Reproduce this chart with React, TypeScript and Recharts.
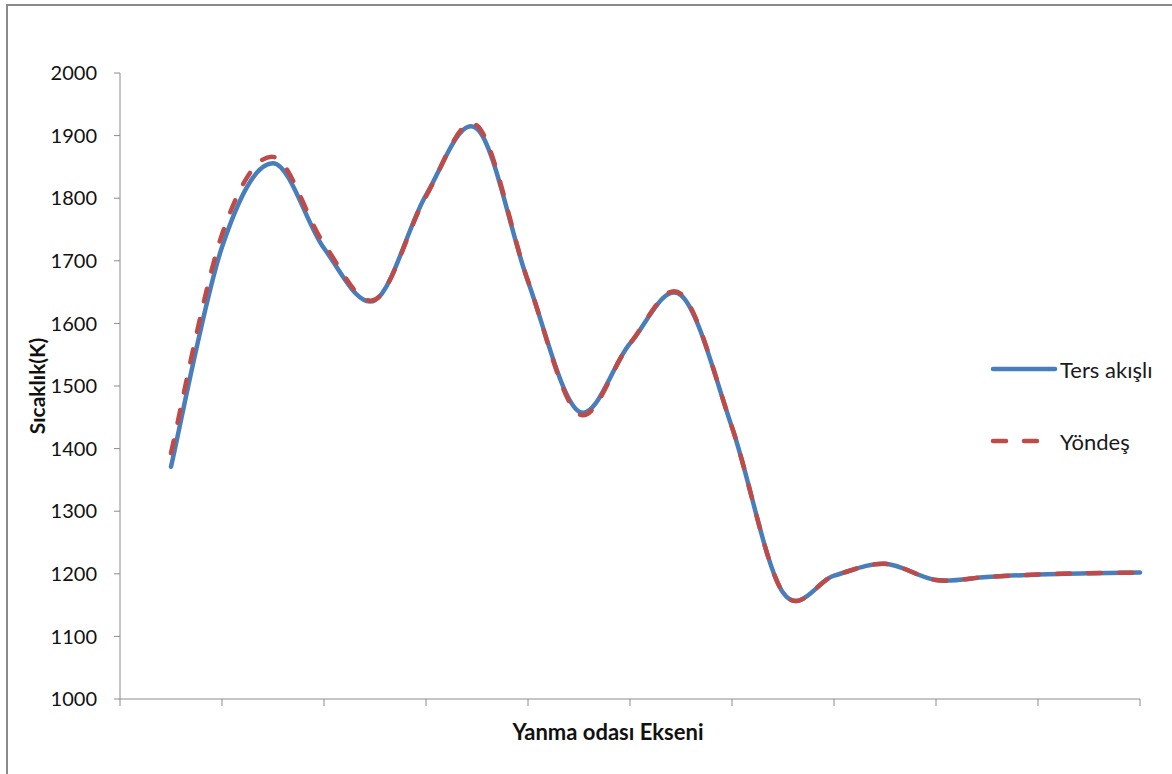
import React from 'react';
import { LineChart, Line, XAxis, YAxis, Legend, Label } from 'recharts';

// Eksen boyunca ölçüm noktaları
const positions = [1, 2, 3, 4, 5, 6, 7, 8, 9, 10, 11, 12, 13, 14, 15, 16, 17, 18, 19, 20];
const tersAkisli = [1371, 1722, 1856, 1720, 1637, 1805, 1911, 1667, 1459, 1568, 1645, 1434, 1170, 1197, 1216, 1190, 1195, 1199, 1201, 1202];
const yondes = [1393, 1742, 1866, 1727, 1638, 1803, 1916, 1668, 1455, 1568, 1647, 1434, 1170, 1197, 1216, 1190, 1195, 1199, 1201, 1202];
const yTicks = [1000, 1100, 1200, 1300, 1400, 1500, 1600, 1700, 1800, 1900, 2000];
const xTicks = [0, 2, 4, 6, 8, 10, 12, 14, 16, 18, 20];

const data = positions.map((x, i) => ({ x, ters: tersAkisli[i], yondes: yondes[i] }));

const BLUE = '#4a7ebb';
const RED = '#be4b48';
const AXIS = '#8c8c8c';
const FONT = "Lato, 'Open Sans', sans-serif";

// Excel-style smoothing: uniform Catmull-Rom through every point
function smoothCurve(context: any) {
  let pts: number[][] = [];
  return {
    areaStart() {},
    areaEnd() {},
    lineStart() {
      pts = [];
    },
    point(x: number, y: number) {
      pts.push([+x, +y]);
    },
    lineEnd() {
      const n = pts.length;
      if (!n) return;
      context.moveTo(pts[0][0], pts[0][1]);
      for (let i = 0; i < n - 1; i++) {
        const p0 = pts[Math.max(i - 1, 0)];
        const p1 = pts[i];
        const p2 = pts[i + 1];
        const p3 = pts[Math.min(i + 2, n - 1)];
        context.bezierCurveTo(
          p1[0] + (p2[0] - p0[0]) / 6,
          p1[1] + (p2[1] - p0[1]) / 6,
          p2[0] - (p3[0] - p1[0]) / 6,
          p2[1] - (p3[1] - p1[1]) / 6,
          p2[0],
          p2[1]
        );
      }
    },
  };
}

function LegendBox() {
  const rows = [
    { name: 'Ters akışlı', color: BLUE, dash: undefined },
    { name: 'Yöndeş', color: RED, dash: '13 18' },
  ];
  return (
    <div>
      {rows.map((r) => (
        <div key={r.name} style={{ display: 'flex', alignItems: 'center', height: 72 }}>
          <svg width={70} height={10}>
            <line
              x1={3}
              y1={5}
              x2={65}
              y2={5}
              stroke={r.color}
              strokeWidth={4.5}
              strokeLinecap="round"
              strokeDasharray={r.dash}
            />
          </svg>
          <span style={{ fontFamily: FONT, fontSize: 22, color: '#1a1a1a' }}>{r.name}</span>
        </div>
      ))}
    </div>
  );
}

export default function App() {
  return (
    <div style={{ position: 'absolute', left: 0, top: 0, width: 1172, height: 774, overflow: 'hidden', background: '#fff' }}>
      <div
        style={{
          position: 'absolute',
          left: 6,
          top: 4,
          width: 1300,
          height: 900,
          borderLeft: '2px solid #8a8a8a',
          borderTop: '2px solid #8a8a8a',
        }}
      />
      <div style={{ position: 'absolute', left: 0, top: 0 }}>
        <LineChart width={1172} height={774} data={data} margin={{ top: 73, right: 32, left: 0, bottom: 0 }}>
          <XAxis
            dataKey="x"
            type="number"
            domain={[0, 20]}
            ticks={xTicks}
            interval={0}
            height={75}
            tickSize={7}
            tickFormatter={() => ''}
            axisLine={{ stroke: AXIS }}
            tickLine={{ stroke: AXIS }}
          >
            <Label
              content={() => (
                <text x={608} y={740} textAnchor="middle" fontFamily={FONT} fontSize={22} fontWeight={700} fill="#111">
                  Yanma odası Ekseni
                </text>
              )}
            />
          </XAxis>
          <YAxis
            type="number"
            domain={[1000, 2000]}
            ticks={yTicks}
            interval={0}
            width={120}
            tickSize={6}
            tickMargin={17}
            axisLine={{ stroke: AXIS }}
            tickLine={{ stroke: AXIS }}
            tick={{ fontFamily: FONT, fontSize: 20, fill: '#111' }}
          >
            <Label
              content={() => (
                <text
                  x={36}
                  y={386}
                  transform="rotate(-90 36 386)"
                  textAnchor="middle"
                  dominantBaseline="central"
                  fontFamily={FONT}
                  fontSize={21}
                  fontWeight={700}
                  fill="#111"
                >
                  Sıcaklık(K)
                </text>
              )}
            />
          </YAxis>
          <Legend
            layout="horizontal"
            align="center"
            verticalAlign="middle"
            content={() => <LegendBox />}
            wrapperStyle={{ left: 990, top: 333, width: 180, height: 144 }}
          />
          <Line
            dataKey="ters"
            name="Ters akışlı"
            type={smoothCurve as any}
            stroke={BLUE}
            strokeWidth={4.5}
            strokeLinecap="round"
            dot={false}
            activeDot={false}
            isAnimationActive={false}
          />
          <Line
            dataKey="yondes"
            name="Yöndeş"
            type={smoothCurve as any}
            stroke={RED}
            strokeWidth={4.5}
            strokeLinecap="round"
            strokeDasharray="13 18"
            dot={false}
            activeDot={false}
            isAnimationActive={false}
          />
        </LineChart>
      </div>
    </div>
  );
}
